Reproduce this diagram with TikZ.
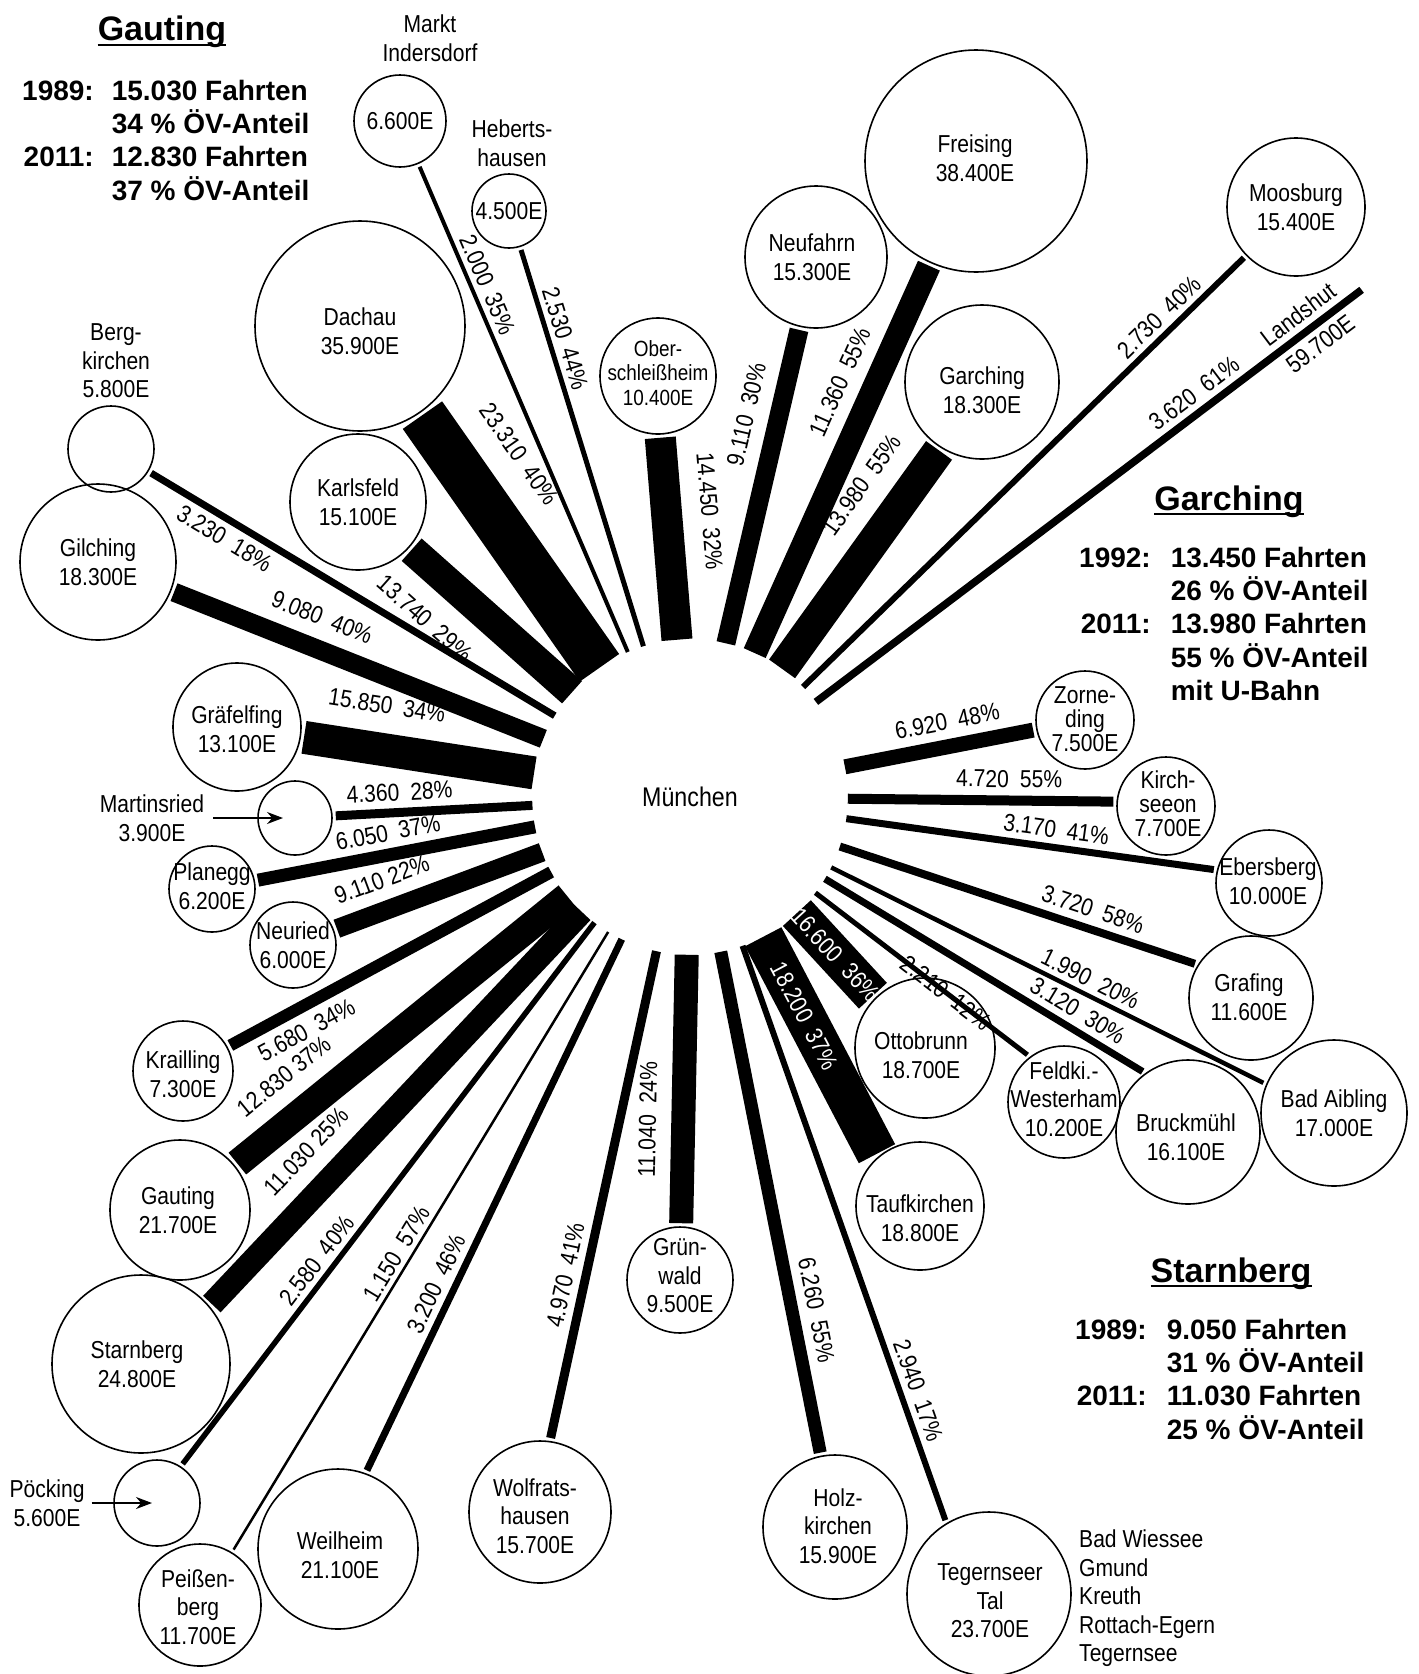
\documentclass[tikz,border=0pt]{standalone}
\usepackage{fontspec}
\setmainfont{Liberation Sans}[FakeStretch=0.86]
\newfontfamily\hfont{Liberation Sans}
\usetikzlibrary{arrows.meta}
\newcommand\lbl{\fontsize{24.5}{28.5}\selectfont}
\newcommand\lbs{\fontsize{24.5}{24}\selectfont}
\newcommand\hdfont{\hfont\bfseries\fontsize{34}{40}\selectfont}
\newcommand\tbfont{\hfont\bfseries\fontsize{28}{33}\selectfont}
\newcommand\gapp{\hspace{0.45em}}
\begin{document}
\begin{tikzpicture}[x=1pt,y=-1pt,
  town/.style={circle, draw, line width=1.6pt, minimum size=#1, inner sep=0pt},
  ttxt/.style={font=\lbl, align=center, inner sep=0pt},
  conn/.style={line width=#1, shorten >=3pt},
  lab/.style={font=\lbl, sloped, inner sep=1pt},
  wlab/.style={font=\lbl, sloped, inner sep=0pt, text=white},
  ptr/.style={line width=1.6pt, -{Stealth[length=16pt,width=12pt]}},
  hd/.style={font=\hdfont, inner sep=0pt},
  tb/.style={font=\tbfont, inner sep=0pt},
  uline/.style={line width=2pt}
]
\useasboundingbox (0,0) rectangle (1419,1674);

% centre
\node[town=314pt, draw=none, font=\fontsize{27}{30}\selectfont] (M) at (690,797) {München};

% towns
\node[town=92pt]  (MI) at (400,121) {};  \node[ttxt] (MIt) at (MI) {6.600E};
\node[ttxt] (MIl) at (430,38) {Markt\\Indersdorf};
\node[town=74pt]  (HH) at (509,211) {};  \node[ttxt] (HHt) at (HH) {4.500E};
\node[ttxt] (HHl) at (512,143) {Heberts-\\hausen};
\node[town=210pt] (DA) at (360,326) {};  \node[ttxt] (DAt) at (360,331) {Dachau\\35.900E};
\node[town=86pt]  (BK) at (111,449) {};
\node[ttxt] (BKl) at (116,361) {Berg-\\kirchen\\5.800E};
\node[town=156pt] (GI) at (98,562) {};   \node[ttxt] (GIt) at (GI) {Gilching\\18.300E};
\node[town=136pt] (KA) at (358,502) {};  \node[ttxt] (KAt) at (KA) {Karlsfeld\\15.100E};
\node[town=128pt] (GF) at (237,727) {};  \node[ttxt] (GFt) at (237,729) {Gräfelfing\\13.100E};
\node[town=74pt]  (MR) at (295,818) {};
\node[ttxt] (MRt) at (152,818) {Martinsried\\3.900E};
\node[town=86pt]  (PL) at (212,889) {};  \node[ttxt] (PLt) at (212,886) {Planegg\\6.200E};
\node[town=86pt]  (NE) at (293,945) {};  \node[ttxt] (NEt) at (NE) {Neuried\\6.000E};
\node[town=100pt] (KR) at (183,1071) {}; \node[ttxt] (KRt) at (183,1074) {Krailling\\7.300E};
\node[town=140pt] (GT) at (180,1210) {}; \node[ttxt] (GTt) at (178,1210) {Gauting\\21.700E};
\node[town=178pt] (ST) at (141,1364) {}; \node[ttxt] (STt) at (137,1364) {Starnberg\\24.800E};
\node[town=86pt]  (PO) at (157,1503) {};
\node[ttxt] (POt) at (47,1503) {Pöcking\\5.600E};
\node[town=122pt] (PE) at (200,1605) {}; \node[ttxt] (PEt) at (198,1607) {Peißen-\\berg\\11.700E};
\node[town=160pt] (WE) at (338,1549) {}; \node[ttxt] (WEt) at (340,1555) {Weilheim\\21.100E};
\node[town=142pt] (WO) at (540,1512) {}; \node[ttxt] (WOt) at (535,1516) {Wolfrats-\\hausen\\15.700E};
\node[town=106pt] (GW) at (680,1280) {}; \node[ttxt] (GWt) at (680,1276) {Grün-\\wald\\9.500E};
\node[town=144pt] (HO) at (835,1527) {}; \node[ttxt] (HOt) at (838,1526) {Holz-\\kirchen\\15.900E};
\node[town=164pt] (TT) at (989,1594) {}; \node[ttxt] (TTt) at (990,1601) {Tegernseer\\Tal\\23.700E};
\node[ttxt, anchor=north west, align=left] (TTl) at (1079,1530) {Bad Wiessee\\Gmund\\Kreuth\\Rottach-Egern\\Tegernsee};
\node[town=128pt] (TA) at (920,1206) {}; \node[ttxt] (TAt) at (920,1218) {Taufkirchen\\18.800E};
\node[town=140pt] (OT) at (925,1048) {}; \node[ttxt] (OTt) at (921,1055) {Ottobrunn\\18.700E};
\node[town=112pt] (FW) at (1064,1102) {}; \node[ttxt] (FWt) at (1064,1099) {Feldki.-\\Westerham\\10.200E};
\node[town=144pt] (BR) at (1188,1132) {}; \node[ttxt] (BRt) at (1186,1137) {Bruckmühl\\16.100E};
\node[town=146pt] (BA) at (1334,1113) {}; \node[ttxt] (BAt) at (BA) {Bad Aibling\\17.000E};
\node[town=124pt] (GR) at (1251,998) {};  \node[ttxt] (GRt) at (1249,997) {Grafing\\11.600E};
\node[town=106pt] (EB) at (1269,883) {};  \node[ttxt] (EBt) at (1268,881) {Ebersberg\\10.000E};
\node[town=98pt]  (KS) at (1166,806) {};  \node[ttxt, font=\lbs] (KSt) at (1168,804) {Kirch-\\seeon\\7.700E};
\node[town=98pt]  (ZO) at (1085,720) {};  \node[ttxt, font=\lbs] (ZOt) at (1085,719) {Zorne-\\ding\\7.500E};
\node[town=138pt] (MO) at (1296,207) {};  \node[ttxt] (MOt) at (MO) {Moosburg\\15.400E};
\node[town=222pt] (FS) at (976,161) {};   \node[ttxt] (FSt) at (975,158) {Freising\\38.400E};
\node[town=142pt] (NF) at (816,257) {};   \node[ttxt] (NFt) at (812,257) {Neufahrn\\15.300E};
\node[town=154pt] (GA) at (982,382) {};   \node[ttxt] (GAt) at (982,390) {Garching\\18.300E};
\node[town=116pt] (OS) at (658,376) {};   \node[ttxt, font=\fontsize{22}{24.5}\selectfont] (OSt) at (658,373) {Ober-\\schleißheim\\10.400E};
\coordinate (LA) at (1364,288);

% connectors
\draw[conn=4pt]   (M) -- node[lab,pos=.74,above=4pt]  {2.000\gapp35\%} (MI);
\draw[conn=5pt]   (M) -- node[lab,pos=.76,above=4pt]  {2.530\gapp44\%} (HH);
\draw[conn=48pt]  (M) -- node[lab,pos=.71,above=23pt] {23.310\gapp40\%} (DA);
\draw[conn=31pt]  (M) -- node[lab,pos=.61,above=18pt] {14.450\gapp32\%} (OS.272);
\draw[conn=19pt]  (M) -- node[lab,pos=.70,above=13pt] {9.110\gapp30\%} (NF);
\draw[conn=24pt]  (M) -- node[lab,pos=.66,above=12pt] {11.360\gapp55\%} (FS);
\draw[conn=32pt]  (M) -- node[lab,pos=.72,above=17pt] {13.980\gapp55\%} (GA.238);
\draw[conn=6pt]   (M) -- node[lab,pos=.83,above=4pt]  {2.730\gapp40\%} (MO);
\draw[conn=7.5pt] (M) -- node[lab,pos=.71,above=5pt]  {3.620\gapp61\%}
                          node[lab,pos=.90,above=5pt]  {Landshut}
                          node[lab,pos=.90,below=5pt]  {59.700E} (LA);
\draw[conn=15pt]  (M) -- node[lab,pos=.56,above=8pt]  {6.920\gapp48\%} (ZO);
\draw[conn=10pt]  (M) -- node[lab,pos=.60,above=7pt]  {4.720\gapp55\%} (KS.175);
\draw[conn=7pt]   (M) -- node[lab,pos=.56,above=5pt]  {3.170\gapp41\%} (EB.166);
\draw[conn=8pt]   (M) -- node[lab,pos=.69,above=6pt]  {3.720\gapp58\%} (GR.148);
\draw[conn=4.5pt] (M) -- node[lab,pos=.58,above=4pt]  {1.990\gapp20\%} (BA.157);
\draw[conn=7pt]   (M) -- node[lab,pos=.76,above=5pt]  {3.120\gapp30\%} (BR.126);
\draw[conn=5pt]   (M) -- node[lab,pos=.61]             {2.210\gapp12\%} (FW.127);
\draw[conn=38pt]  (M) -- node[wlab,pos=.49]            {16.600\gapp36\%} (OT.135);
\draw[conn=41pt]  (M) -- node[wlab,pos=.36]            {18.200\gapp37\%} (TA.130);
\draw[conn=6pt]   (M) -- node[lab,pos=.78,above=5pt]  {2.940\gapp17\%} (TT.121);
\draw[conn=13pt]  (M) -- node[lab,pos=.72,above=8pt]  {6.260\gapp55\%} (HO);
\draw[conn=24pt]  (M) -- node[lab,pos=.61,above=14pt] {11.040\gapp24\%} (GW);
\draw[conn=9pt]   (M) -- node[lab,pos=.67,above=6pt]  {4.970\gapp41\%} (WO.82);
\draw[conn=7pt]   (M) -- node[lab,pos=.66,above=5pt]  {3.200\gapp46\%} (WE.70);
\draw[conn=2.5pt] (M) -- node[lab,pos=.53,above=3pt]  {1.150\gapp57\%} (PE);
\draw[conn=5.5pt] (M) -- node[lab,pos=.64,above=4pt]  {2.580\gapp40\%} (PO.57);
\draw[conn=24pt]  (M) -- node[lab,pos=.67,above=14pt] {11.030\ 25\%} (ST.40);
\draw[conn=28pt]  (M) -- node[lab,pos=.78,above=15pt] {12.830 37\%} (GT);
\draw[conn=12pt]  (M) -- node[lab,pos=.79,below=7pt]  {5.680\gapp34\%} (KR);
\draw[conn=19pt]  (M) -- node[lab,pos=.72,above=11pt] {9.110 22\%} (NE);
\draw[conn=13pt]  (M) -- node[lab,pos=.51,above=6pt]  {6.050\gapp37\%} (PL);
\draw[conn=9pt]   (M) -- node[lab,pos=.66,above=6pt]  {4.360\gapp28\%} (MR);
\draw[conn=33pt]  (M) -- node[lab,pos=.66,above=18pt] {15.850\gapp34\%} (GF);
\draw[conn=19pt]  (M) -- node[lab,pos=.625,above=12pt] {9.080\gapp40\%} (GI);
\draw[conn=7pt]   (M) -- node[lab,pos=.79,below=5pt]  {3.230\gapp18\%} (BK);
\draw[conn=30pt]  (M) -- node[lab,pos=.73,below=18pt] {13.740\gapp29\%} (KA);

% pointer arrows
\draw[ptr] ([xshift=9pt]MRt.east) -- ([xshift=-12pt]MR.center);
\draw[ptr] ([xshift=7pt]POt.east) -- ([xshift=-5pt]PO.center);

% headings
\node[hd, anchor=base] (GautH) at (162,40) {Gauting};
\draw[uline] ([yshift=-5pt]GautH.base west) -- ([yshift=-5pt]GautH.base east);
\node[tb, anchor=base west] (GautT) at (22,100) {\begin{tabular}[t]{@{}r@{\hspace{18pt}}l@{}}1989: & 15.030 Fahrten\\ & 34 \% ÖV-Anteil\\ 2011: & 12.830 Fahrten\\ & 37 \% ÖV-Anteil\end{tabular}};

\node[hd, anchor=base] (GarH) at (1229,510) {Garching};
\draw[uline] ([yshift=-4pt]GarH.base west) -- ([yshift=-4pt]GarH.base east);
\node[tb, anchor=base west] (GarT) at (1079,567) {\begin{tabular}[t]{@{}r@{\hspace{20pt}}l@{}}1992: & 13.450 Fahrten\\ & 26 \% ÖV-Anteil\\ 2011: & 13.980 Fahrten\\ & 55 \% ÖV-Anteil\\ & mit U-Bahn\end{tabular}};

\node[hd, anchor=base] (StaH) at (1231,1282) {Starnberg};
\draw[uline] ([yshift=-4pt]StaH.base west) -- ([yshift=-4pt]StaH.base east);
\node[tb, anchor=base west] (StaT) at (1075,1339) {\begin{tabular}[t]{@{}r@{\hspace{20pt}}l@{}}1989: & 9.050 Fahrten\\ & 31 \% ÖV-Anteil\\ 2011: & 11.030 Fahrten\\ & 25 \% ÖV-Anteil\end{tabular}};
\end{tikzpicture}
\end{document}
